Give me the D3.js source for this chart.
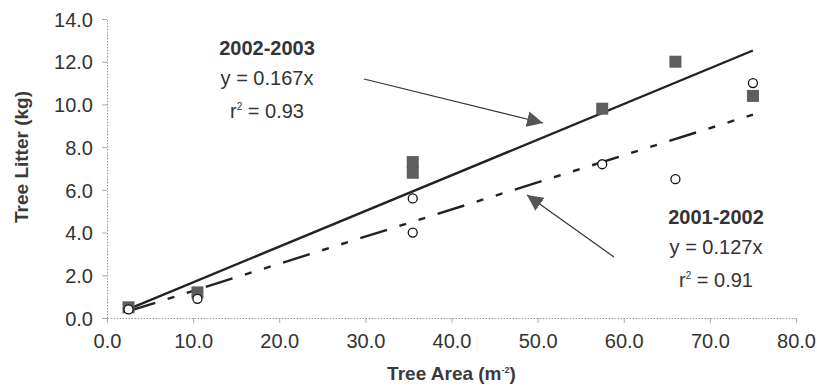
<!DOCTYPE html>
<html>
<head>
<meta charset="utf-8">
<script src="https://cdn.jsdelivr.net/npm/d3@7"></script>
<style>
  body { margin: 0; background: #fff; }
  svg { display: block; font-family: 'Liberation Sans', Arial, sans-serif; }
</style>
</head>
<body>
<div id="chart"></div>
<script>
// 2002-2003 litter (filled squares)
const area0203 = [2.5, 10.5, 35.5, 35.5, 57.5, 66.0, 75.0]
const litter0203 = [0.5, 1.2, 7.3, 6.8, 9.8, 12.0, 10.4]
// 2001-2002 litter (open circles)
const area0102 = [2.5, 10.5, 35.5, 35.5, 57.5, 66.0, 75.0]
const litter0102 = [0.4, 0.9, 5.6, 4.0, 7.2, 6.5, 11.0]
// regression through origin
const slope0203 = 0.167
const slope0102 = 0.127
const fitRange = [2.5, 75]

const xTicks = [0, 10, 20, 30, 40, 50, 60, 70, 80]
const yTicks = [0, 2, 4, 6, 8, 10, 12, 14]

const width = 817
const height = 389
const margin = { top: 19, right: 21, bottom: 71, left: 107 }

const svg = d3.select('#chart')
  .append('svg')
  .attr('width', width)
  .attr('height', height)

const x = d3.scaleLinear().domain([0, 80]).range([margin.left, width - margin.right])
const y = d3.scaleLinear().domain([0, 14]).range([height - margin.bottom, margin.top])

// axes
const xAxis = svg.append('g')
  .attr('transform', 'translate(0,' + y(0) + ')')
  .call(d3.axisBottom(x).tickValues(xTicks).tickSize(5).tickSizeOuter(0).tickFormat(d3.format('.1f')))
const yAxis = svg.append('g')
  .attr('transform', 'translate(' + x(0) + ',0)')
  .call(d3.axisLeft(y).tickValues(yTicks).tickSize(5).tickSizeOuter(0).tickFormat(d3.format('.1f')))

;[xAxis, yAxis].forEach(function (a) {
  a.select('.domain').attr('stroke', '#999').attr('stroke-dasharray', '1.5,1.5')
  a.selectAll('.tick line').attr('stroke', '#aaa')
  a.selectAll('.tick text')
    .attr('fill', '#333')
    .style('font-size', '20px')
    .style('font-family', "'Liberation Sans', Arial, sans-serif")
})
xAxis.selectAll('.tick text').attr('dy', null).attr('y', 30)
yAxis.selectAll('.tick text').attr('x', -14).attr('dy', '0.36em')

// axis titles
svg.append('text')
  .attr('x', (x(0) + x(80)) / 2)
  .attr('y', 380)
  .attr('text-anchor', 'middle')
  .style('font-size', '19px')
  .style('font-weight', 'bold')
  .attr('fill', '#3a3a3a')
  .text('Tree Area (m')
  .append('tspan')
  .attr('dy', -7)
  .style('font-size', '9px')
  .text('-2')
  .append('tspan')
  .attr('dy', 7)
  .style('font-size', '19px')
  .text(')')

svg.append('text')
  .attr('transform', 'translate(28,' + 157 + ') rotate(-90)')
  .attr('text-anchor', 'middle')
  .style('font-size', '19px')
  .style('font-weight', 'bold')
  .attr('fill', '#3a3a3a')
  .text('Tree Litter (kg)')

// regression lines
const line = d3.line().x(function (d) { return x(d[0]) }).y(function (d) { return y(d[1]) })

svg.append('path')
  .datum(fitRange.map(function (v) { return [v, v * slope0203] }))
  .attr('d', line)
  .attr('fill', 'none')
  .attr('stroke', '#222')
  .attr('stroke-width', 2.4)

svg.append('path')
  .datum(fitRange.map(function (v) { return [v, v * slope0102] }))
  .attr('d', line)
  .attr('fill', 'none')
  .attr('stroke', '#222')
  .attr('stroke-width', 2.4)
  .attr('stroke-dasharray', '28,13,7,13,7,13')

// points
const sq = 12
svg.append('g')
  .selectAll('rect')
  .data(d3.zip(area0203, litter0203))
  .enter()
  .append('rect')
  .attr('x', function (d) { return x(d[0]) - sq / 2 })
  .attr('y', function (d) { return y(d[1]) - sq / 2 })
  .attr('width', sq)
  .attr('height', sq)
  .attr('fill', '#5e5e5e')

svg.append('g')
  .selectAll('circle')
  .data(d3.zip(area0102, litter0102))
  .enter()
  .append('circle')
  .attr('cx', function (d) { return x(d[0]) })
  .attr('cy', function (d) { return y(d[1]) })
  .attr('r', 4.5)
  .attr('fill', '#fff')
  .attr('stroke', '#111')
  .attr('stroke-width', 1.3)

// arrows
svg.append('defs').append('marker')
  .attr('id', 'head')
  .attr('viewBox', '0 0 10 10')
  .attr('refX', 10)
  .attr('refY', 5)
  .attr('markerWidth', 16)
  .attr('markerHeight', 16)
  .attr('markerUnits', 'userSpaceOnUse')
  .attr('orient', 'auto')
  .append('path')
  .attr('d', 'M0,0L10,5L0,10Z')
  .attr('fill', '#555')

const arrows = [[364, 79, 543, 123], [614, 257, 527, 195]]
svg.append('g')
  .selectAll('line')
  .data(arrows)
  .enter()
  .append('line')
  .attr('x1', function (d) { return d[0] })
  .attr('y1', function (d) { return d[1] })
  .attr('x2', function (d) { return d[2] })
  .attr('y2', function (d) { return d[3] })
  .attr('stroke', '#333')
  .attr('stroke-width', 1.2)
  .attr('marker-end', 'url(#head)')

// fit labels
function fitLabel (cx, top, period, slope, r2) {
  const g = svg.append('g').attr('text-anchor', 'middle').attr('fill', '#333')
  g.append('text').attr('x', cx).attr('y', top)
    .style('font-size', '20px').style('font-weight', 'bold').text(period)
  g.append('text').attr('x', cx).attr('y', top + 30)
    .style('font-size', '20px').text('y = ' + slope + 'x')
  const r = g.append('text').attr('x', cx).attr('y', top + 63).style('font-size', '20px')
  r.append('tspan').text('r')
  r.append('tspan').attr('dy', -8).style('font-size', '10px').text('2')
  r.append('tspan').attr('dy', 8).text(' = ' + r2)
}
fitLabel(267, 55, '2002-2003', slope0203, '0.93')
fitLabel(716, 224, '2001-2002', slope0102, '0.91')
</script>
</body>
</html>
